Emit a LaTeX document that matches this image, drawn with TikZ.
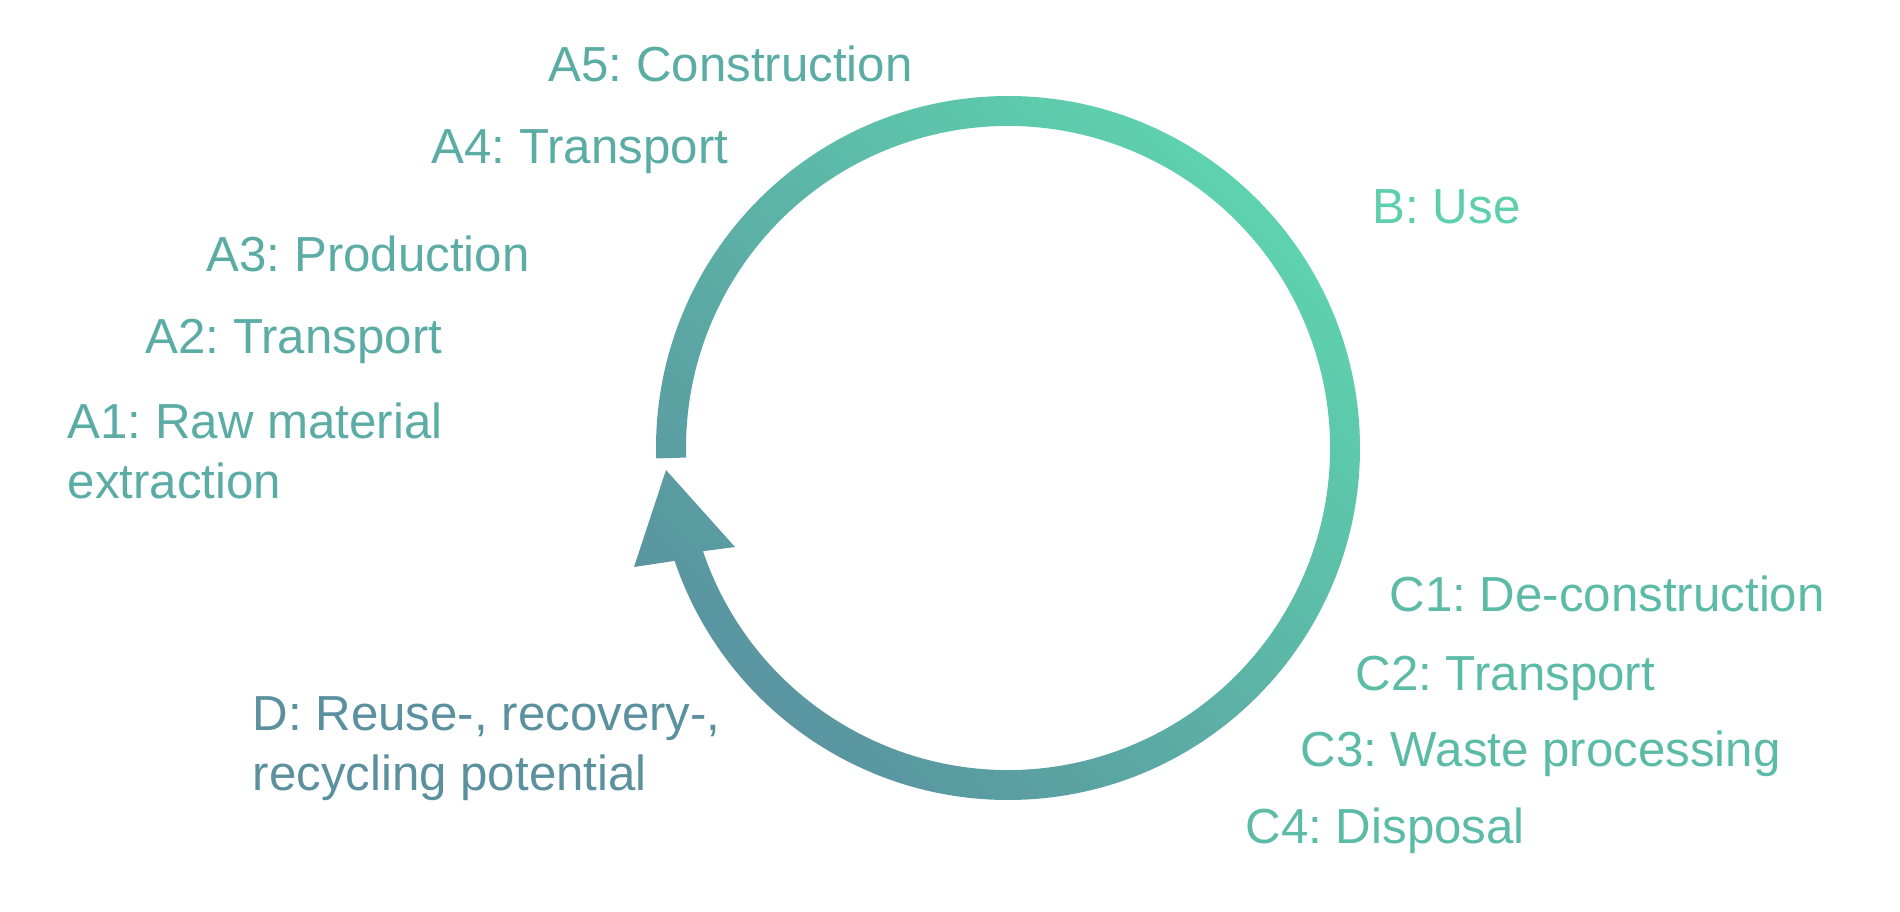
\documentclass[tikz,border=0pt]{standalone}
\usepackage{fontspec}
\setmainfont{Liberation Sans}
\usetikzlibrary{calc}

\definecolor{ringgreen}{HTML}{5ED3AD}
\definecolor{ringmid}{HTML}{5BB8A7}
\definecolor{ringblue}{HTML}{5A93A0}
\definecolor{stageA}{HTML}{5BACA5}
\definecolor{stageB}{HTML}{5DCFAB}
\definecolor{stageC}{HTML}{5BBBA7}
\definecolor{stageD}{HTML}{5B909F}

\begin{document}
\frenchspacing
\begin{tikzpicture}[x=0.01cm, y=0.01cm,
    stage/.style={anchor=base west, inner sep=0pt, align=left,
      font=\fontsize{14}{17}\selectfont}]
  % picture frame, 1900 x 911
  \useasboundingbox (0,0) rectangle (1900,911);
  % ring centre and radii
  \def\cx {1008}
  \def\cy {463}
  \def\rout {352}
  \def\rin {322}
  \coordinate (ctr) at (\cx,\cy);
  % arrow head corners
  \coordinate (tip) at (666,441);
  \coordinate (base_out) at (634,344);
  \coordinate (base_in) at (735,364);
  % ring with arrow head
  \shade[top color=ringgreen, middle color=ringmid, bottom color=ringblue, shading angle=-45]
    ($(ctr)+(181.7:\rout)$) arc[start angle=181.7, end angle=-161.3, radius=\rout]
    -- (base_out) -- (tip) -- (base_in)
    -- ($(ctr)+(-161.3:\rin)$) arc[start angle=-161.3, end angle=181.7, radius=\rin]
    -- cycle;
  % labels: left end of last baseline, colour, text
  \def\labels {67/413/stageA/{A1: Raw material\\extraction},
               145/558/stageA/{A2: Transport},
               206/640/stageA/{A3: Production},
               431/748/stageA/{A4: Transport},
               548/830/stageA/{A5: Construction},
               1372/688/stageB/{B: Use},
               1389/300/stageC/{C1: De-construction},
               1355/221/stageC/{C2: Transport},
               1300/145/stageC/{C3: Waste processing},
               1245/68/stageC/{C4: Disposal},
               252/121/stageD/{D: Reuse-, recovery-,\\recycling potential}}
  \foreach \px/\py/\tone/\txt [count=\index] in \labels
  {
    \node[stage, text=\tone] (l_\index) at (\px,\py) {\txt};
  }
\end{tikzpicture}
\end{document}
